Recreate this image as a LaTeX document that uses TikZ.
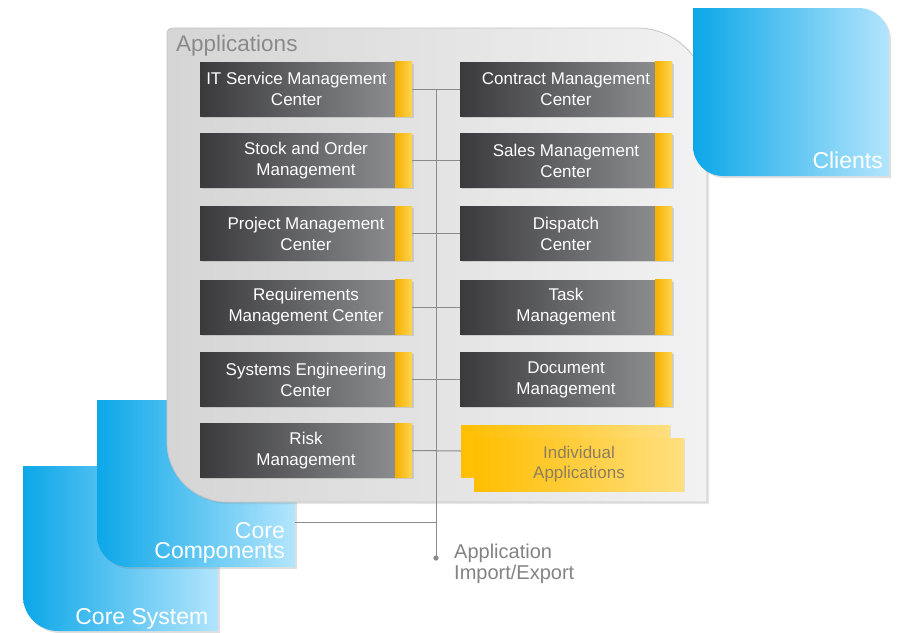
\documentclass[tikz,border=0pt]{standalone}
\usepackage{fontspec}
\setmainfont{Liberation Sans}
\usetikzlibrary{shadows,calc}
\definecolor{blueL}{HTML}{0CA7E8}
\definecolor{blueR}{HTML}{B3E5FD}
\definecolor{panelL}{HTML}{D5D5D5}
\definecolor{panelR}{HTML}{F2F2F2}
\definecolor{panelB}{HTML}{C4C4C4}
\definecolor{darkL}{HTML}{3A3A3C}
\definecolor{darkR}{HTML}{929395}
\definecolor{yelL}{HTML}{F5B000}
\definecolor{yelR}{HTML}{FFD550}
\definecolor{indL}{HTML}{FFBE00}
\definecolor{indR}{HTML}{FFDF80}
\definecolor{indText}{HTML}{8C7E5E}
\definecolor{lineC}{HTML}{8A8A8A}
\definecolor{labelC}{HTML}{8A8A8A}
\begin{document}
\begin{tikzpicture}[x=1pt,y=-1pt,
  bluebox/.style={left color=blueL,right color=blueR,
    drop shadow={opacity=0.25,shadow xshift=2pt,shadow yshift=-2pt}},
  panelbox/.style={left color=panelL,right color=panelR,draw=panelB,line width=0.8pt,
    drop shadow={opacity=0.2,shadow xshift=2pt,shadow yshift=-2pt}},
  bluelabel/.style={text=white,font=\fontsize{23}{20.5}\selectfont,inner sep=0pt},
  appbox/.style={minimum width=212pt,minimum height=54pt,inner sep=0pt,
    left color=darkL,right color=darkR,text=white,align=center,
    font=\fontsize{17}{21}\selectfont,
    drop shadow={opacity=0.25,shadow xshift=1.5pt,shadow yshift=-1.5pt}},
  strip/.style={left color=yelL,right color=yelR},
  indbox/.style={minimum width=210pt,minimum height=53pt,inner sep=0pt,
    left color=indL,right color=indR,text=indText,align=center,
    font=\fontsize{17}{20}\selectfont,
    drop shadow={opacity=0.15,shadow xshift=1pt,shadow yshift=-1pt}},
  conn/.style={draw=lineC,line width=1pt}]
\useasboundingbox (0,0) rectangle (899,632);

% Core System
\path[bluebox] (23,466) -- (218,466) -- (218,631) -- (58,631)
  .. controls (38.7,631) and (23,615.3) .. (23,596) -- cycle;
\node[bluelabel,anchor=base east] (coresys) at (208.5,624) {Core System};

% Core Components
\path[bluebox] (97,400) -- (295,400) -- (295,567) -- (129,567)
  .. controls (111.3,567) and (97,552.7) .. (97,535) -- cycle;
\node[bluelabel,anchor=east,align=right] (corecomp) at (285,543) {Core\\Components};
\coordinate (ccR) at (295,522);

% Applications panel
\path[panelbox] (167,33) .. controls (167,30.24) and (169.24,28) .. (172,28)
  -- (637,28) .. controls (675.7,28) and (707,59.3) .. (707,98)
  -- (707,502) -- (227,502) .. controls (193.9,502) and (167,475.1) .. (167,442) -- cycle;
\node[anchor=base west,inner sep=0pt,text=labelC,font=\fontsize{22.5}{24}\selectfont]
  (applab) at (176,51.5) {Applications};

% Clients
\path[bluebox] (693,8) -- (859,8) .. controls (875.6,8) and (889,21.4) .. (889,38)
  -- (889,176) -- (723,176) .. controls (706.4,176) and (693,162.6) .. (693,146) -- cycle;
\node[bluelabel,anchor=base east] (clients) at (883,168.5) {Clients};

% application boxes, left column
\node[appbox] (itsm) at (306,89) {\hspace*{-19pt}IT Service Management\\\hspace*{-19pt}Center};
\node[appbox] (stock) at (306,160.5) {Stock and Order\\Management};
\node[appbox] (proj) at (306,233.5) {Project Management\\Center};
\node[appbox] (req) at (306,307) {Requirements\\Management Center};
\node[appbox] (syseng) at (306,379.5) {Systems Engineering\\Center};
\node[appbox] (risk) at (306,450.5) {Risk\\Management};

% right column
\node[appbox] (contract) at (566,89) {Contract Management\\Center};
\node[appbox] (sales) at (566,160.5) {Sales Management\\Center};
\node[appbox] (dispatch) at (566,233.5) {Dispatch\\Center};
\node[appbox] (task) at (566,307) {Task\\Management};
\node[appbox] (docm) at (566,379.5) {Document\\Management};

% yellow strips at the right end of each box
\foreach \n in {itsm,stock,proj,req,syseng,risk,contract,sales,dispatch,task,docm}
  \shade[strip] ([xshift=-17pt]\n.north east) rectangle (\n.south east);

% individual applications
\node[indbox,minimum width=209pt,minimum height=52pt] (indiv) at (565.5,451) {};
\node[indbox] (indivF) at (579,464.5) {Individual\\Applications};

% connectors
\draw[conn] (itsm.east) -- (contract.west);
\draw[conn] (stock.east) -- (sales.west);
\draw[conn] (proj.east) -- (dispatch.west);
\draw[conn] (req.east) -- (task.west);
\draw[conn] (syseng.east) -- (docm.west);
\draw[conn] (risk.east) -- (indiv.west);
\coordinate (vtop) at ($(itsm.east)!0.5!(contract.west)$);
\coordinate (ieY) at (0,558);
\coordinate (ie) at (vtop |- ieY);
\draw[conn] (vtop) -- (ie);
\draw[conn] (ccR) -- (ccR -| vtop);
\fill[lineC] (ie) circle (2.6pt);
\node[anchor=west,inner sep=0pt,align=left,text=labelC!95!black,
  font=\fontsize{20}{21}\selectfont] (iexp) at (454,564.3) {Application\\Import/Export};
\end{tikzpicture}
\end{document}
